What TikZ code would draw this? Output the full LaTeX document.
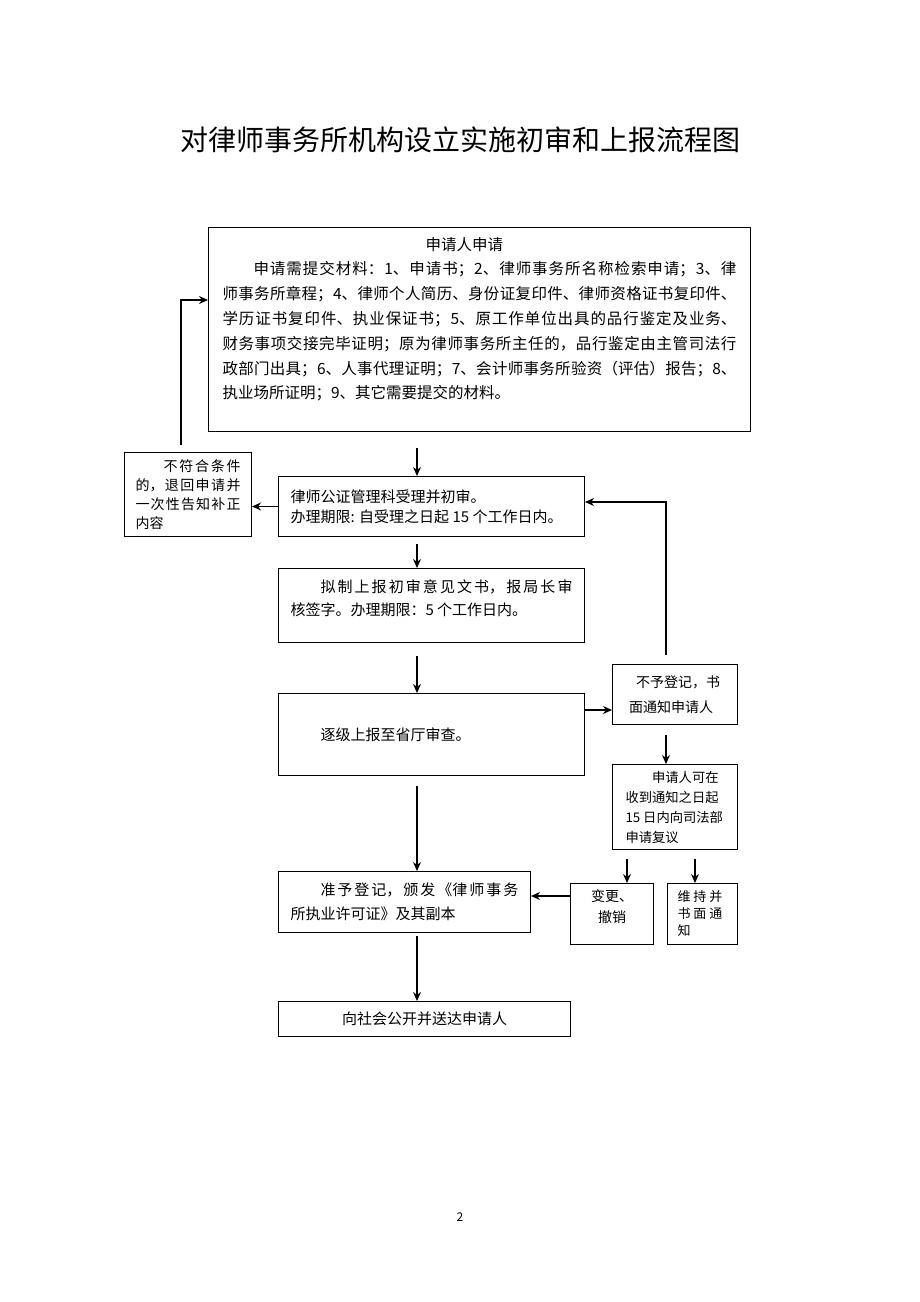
\documentclass[tikz,border=0pt]{standalone}
\usepackage{fontspec}
\setmainfont{Noto Sans CJK SC}
\usetikzlibrary{arrows.meta}
\XeTeXlinebreaklocale "zh"
\XeTeXlinebreakskip=0pt plus 2pt
\tikzset{
    stepbox/.style={
           rectangle,
           draw=black,
           line width=1pt,
           anchor=north west,
           inner sep=0pt,
           font=\fontsize{15pt}{20pt}\selectfont,
           },
}

\begin{document}
\begin{tikzpicture}[
  x=1pt,y=-1pt,
  ->,>={Stealth[length=9pt,width=8pt]},
  line width=1.3pt,
  small/.style={font=\fontsize{14pt}{19pt}\selectfont}]
\path[use as bounding box] (0,0) rectangle (920,1302);
\node[font=\fontsize{28pt}{30pt}\selectfont,inner sep=0pt](title) at (460,140){对律师事务所机构设立实施初审和上报流程图};

\node[stepbox,minimum width=542pt,minimum height=204pt,font=\fontsize{15.5pt}{24.8pt}\selectfont](apply) at (208,227){\parbox[c][185pt][t]{514pt}{%
\hspace*{203pt}申请人申请\\%
\hspace*{2em}申请需提交材料：1、申请书；2、律师事务所名称检索申请；3、律\linebreak%
师事务所章程；4、律师个人简历、身份证复印件、律师资格证书复印件、\linebreak%
学历证书复印件、执业保证书；5、原工作单位出具的品行鉴定及业务、\linebreak%
财务事项交接完毕证明；原为律师事务所主任的，品行鉴定由主管司法行\linebreak%
政部门出具；6、人事代理证明；7、会计师事务所验资（评估）报告；8、\linebreak%
执业场所证明；9、其它需要提交的材料。}};
\node[stepbox,small,minimum width=127pt,minimum height=84pt](nogo) at (124,452){\parbox{105pt}{%
\hspace*{2em}不符合条件\linebreak%
的，退回申请并\linebreak%
一次性告知补正\linebreak%
内容}};
\node[stepbox,minimum width=306pt,minimum height=60pt](check) at (278,476){\parbox{282pt}{%
律师公证管理科受理并初审。\\%
办理期限: 自受理之日起 15 个工作日内。}};
\node[stepbox,font=\fontsize{15pt}{23pt}\selectfont,minimum width=306pt,minimum height=74pt](draft) at (278,568){\parbox[c][51pt][t]{282pt}{%
\hspace*{2em}拟制上报初审意见文书，报局长审\linebreak%
核签字。办理期限：5 个工作日内。}};
\node[stepbox,minimum width=306pt,minimum height=82pt](report) at (278,693){\parbox{282pt}{%
\hspace*{2em}逐级上报至省厅审查。}};
\node[stepbox,font=\fontsize{14pt}{25pt}\selectfont,minimum width=125pt,minimum height=60pt](refuse) at (612,664){\parbox{92pt}{%
\hspace*{0.5em}不予登记，书\\%
面通知申请人}};
\node[stepbox,font=\fontsize{13.3pt}{20pt}\selectfont,minimum width=125pt,minimum height=85pt](review) at (612,764){\parbox{99pt}{%
\hspace*{2em}申请人可在\\%
收到通知之日起\\%
15 日内向司法部\\%
申请复议}};
\node[stepbox,font=\fontsize{14pt}{21pt}\selectfont,minimum width=83pt,minimum height=61pt](revoke) at (570,883){\parbox[c][49pt][t]{70pt}{\centering
变更、\\%
撤销}};
\node[stepbox,font=\fontsize{13pt}{17pt}\selectfont,minimum width=70pt,minimum height=61pt](keep) at (667,883){\parbox{50pt}{%
维 持 并\\%
书 面 通\\%
知}};
\node[stepbox,font=\fontsize{15pt}{24pt}\selectfont,minimum width=252pt,minimum height=61pt](approve) at (278,871){\parbox{228pt}{%
\hspace*{2em}准予登记，颁发《律师事务\linebreak%
所执业许可证》及其副本}};
\node[stepbox,minimum width=292pt,minimum height=35pt](publish) at (278,1001){向社会公开并送达申请人};
\node[font=\fontsize{12pt}{14pt}\selectfont,inner sep=0pt](pageno) at (460,1217){2};

% bend points and columns of the connectors
\coordinate (mx) at (417,0);
\coordinate (back) at (181,300);
\coordinate (again) at (666,502);
\coordinate (tor) at (0,710);
\coordinate (tod) at (0,896);
\coordinate (r3x) at (627,0);
\coordinate (r4x) at (695,0);

\path (apply.south -| mx) edge[shorten <=16pt] (check.north -| mx)
      (check.west) edge (nogo.east |- check.west)
      (check.south -| mx) edge[shorten <=7pt] (draft.north -| mx)
      (draft.south -| mx) edge[shorten <=13pt] (report.north -| mx)
      (report.east |- tor) edge (refuse.west |- tor)
      (refuse.south -| again) edge[shorten <=10pt] (review.north -| again)
      (review.south -| r3x) edge[shorten <=9pt] (revoke.north -| r3x)
      (review.south -| r4x) edge[shorten <=9pt] (keep.north -| r4x)
      (revoke.west |- tod) edge (approve.east |- tod)
      (report.south -| mx) edge[shorten <=10pt] (approve.north -| mx)
      (approve.south -| mx) edge[shorten <=3pt] (publish.north -| mx);
\draw[shorten <=7pt] (nogo.north -| back) -- (back) -- (apply.west |- back);
\draw[shorten <=9pt] (refuse.north -| again) -- (again) -- (check.east |- again);
\end{tikzpicture}
\end{document}
